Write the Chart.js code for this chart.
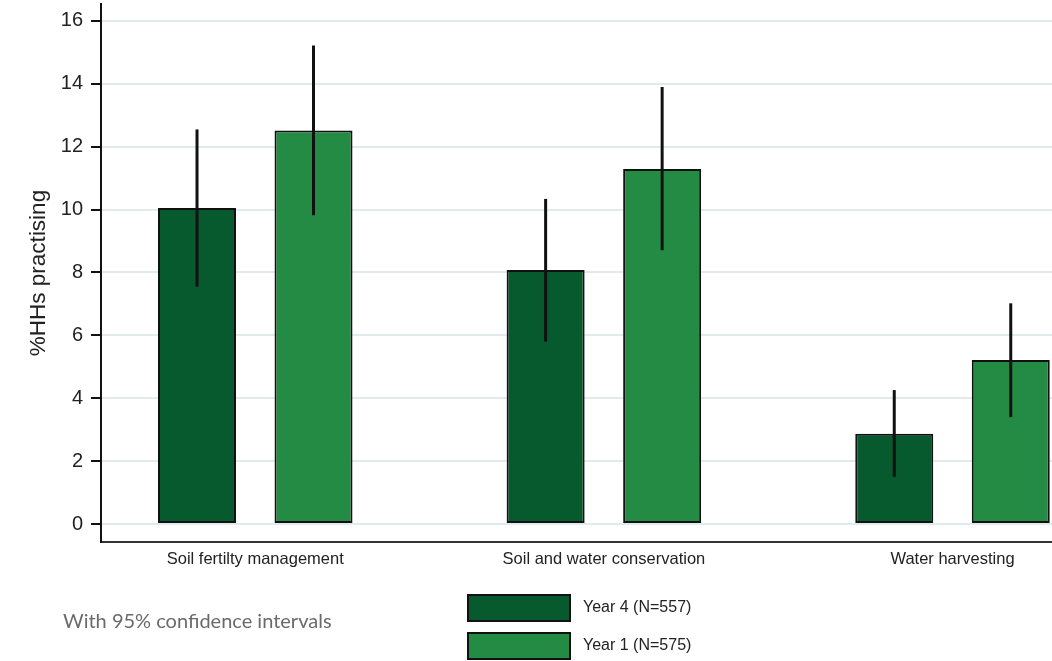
<!DOCTYPE html>
<html>
<head>
<meta charset="utf-8">
<script src="https://cdn.jsdelivr.net/npm/chart.js@4/dist/chart.umd.min.js"></script>
<style>
  html, body { margin: 0; padding: 0; background: #fff; }
  #wrap { width: 1052px; height: 661px; position: relative; }
</style>
</head>
<body>
<div id="wrap"><canvas id="c"></canvas></div>
<script>
// Practice categories and shares of households (%) with 95% CI bounds
const categories = ['Soil fertilty management', 'Soil and water conservation', 'Water harvesting'];
const year4 = [10.05, 8.08, 2.87];
const year4Low = [7.55, 5.80, 1.50];
const year4High = [12.55, 10.34, 4.26];
const year1 = [12.52, 11.29, 5.22];
const year1Low = [9.82, 8.71, 3.40];
const year1High = [15.22, 13.90, 7.02];
const yTicks = [0, 2, 4, 6, 8, 10, 12, 14, 16];
const seriesLabels = ['Year 4 (N=557)', 'Year 1 (N=575)'];
const footnote = 'With 95% confidence intervals';

const darkGreen = '#065a2e';
const lightGreen = '#248b45';

const toPoints = vals => vals.map((v, i) => ({ x: i + 1, y: v }));

// Vertical CI whiskers drawn on top of each bar
const ciPlugin = {
  id: 'ciWhiskers',
  afterDatasetsDraw(chart) {
    const ctx = chart.ctx;
    const y = chart.scales.y;
    chart.data.datasets.forEach((ds, di) => {
      const meta = chart.getDatasetMeta(di);
      meta.data.forEach((bar, i) => {
        ctx.save();
        ctx.strokeStyle = '#111';
        ctx.lineWidth = 3;
        ctx.beginPath();
        ctx.moveTo(bar.x, y.getPixelForValue(ds.ciLow[i]));
        ctx.lineTo(bar.x, y.getPixelForValue(ds.ciHigh[i]));
        ctx.stroke();
        ctx.restore();
      });
    });
  }
};

// Stacked key below the plot plus the note on the left
const keyPlugin = {
  id: 'stackedKey',
  afterDraw(chart) {
    const ctx = chart.ctx;
    ctx.save();
    chart.data.datasets.forEach((ds, i) => {
      const top = 594 + i * 38;
      ctx.fillStyle = ds.backgroundColor;
      ctx.fillRect(467, top, 104, 28);
      ctx.strokeStyle = '#111';
      ctx.lineWidth = 2;
      ctx.strokeRect(468, top + 1, 102, 26);
      ctx.fillStyle = '#222';
      ctx.font = '16px "Liberation Sans", Arial, sans-serif';
      ctx.textAlign = 'left';
      ctx.textBaseline = 'middle';
      ctx.fillText(ds.label, 583, top + 14);
    });
    ctx.fillStyle = '#6a6a6a';
    ctx.font = '20px Lato, "Open Sans", sans-serif';
    ctx.textAlign = 'left';
    ctx.textBaseline = 'middle';
    ctx.fillText(footnote, 63, 622);
    ctx.restore();
  }
};

new Chart(document.getElementById('c'), {
  type: 'bar',
  data: {
    datasets: [
      { label: seriesLabels[0], data: toPoints(year4), ciLow: year4Low, ciHigh: year4High,
        backgroundColor: darkGreen, borderColor: '#111', borderWidth: 2, borderSkipped: false },
      { label: seriesLabels[1], data: toPoints(year1), ciLow: year1Low, ciHigh: year1High,
        backgroundColor: lightGreen, borderColor: '#111', borderWidth: 2, borderSkipped: false }
    ]
  },
  options: {
    responsive: true,
    maintainAspectRatio: false,
    animation: false,
    categoryPercentage: 0.6684,
    barPercentage: 0.6695,
    layout: { padding: { top: 4, left: 0, right: 0, bottom: 0 } },
    plugins: {
      legend: { display: false },
      tooltip: { enabled: false }
    },
    scales: {
      x: {
        type: 'linear',
        offset: false,
        min: 0.5575,
        max: 3.2854,
        afterBuildTicks: s => { s.ticks = categories.map((c, i) => ({ value: i + 1 })); },
        afterFit: s => { s.height = 119; s.paddingLeft = 0; s.paddingRight = 0; },
        ticks: {
          callback: v => categories[v - 1],
          autoSkip: false,
          maxRotation: 0,
          padding: 8,
          color: '#222',
          font: { family: '"Liberation Sans", Arial, sans-serif', size: 16.5 }
        },
        grid: { display: true, offset: false, drawOnChartArea: false, drawTicks: false },
        border: { display: true, color: '#333', width: 2 }
      },
      y: {
        min: -0.5725,
        max: 16.54,
        afterBuildTicks: s => { s.ticks = yTicks.map(v => ({ value: v })); },
        afterFit: s => { s.width = 101; s.paddingTop = 0; s.paddingBottom = 0; },
        ticks: {
          color: '#222',
          padding: 8,
          font: { family: '"Liberation Sans", Arial, sans-serif', size: 20 }
        },
        grid: { color: '#e1ebee', lineWidth: 2, tickColor: '#111', tickLength: 10, tickWidth: 2 },
        border: { display: true, color: '#111', width: 2 },
        title: {
          display: true,
          text: '%HHs practising',
          color: '#222',
          padding: { top: 25, bottom: 0 },
          font: { family: '"Liberation Sans", Arial, sans-serif', size: 22.5 }
        }
      }
    }
  },
  plugins: [ciPlugin, keyPlugin]
});
</script>
</body>
</html>
